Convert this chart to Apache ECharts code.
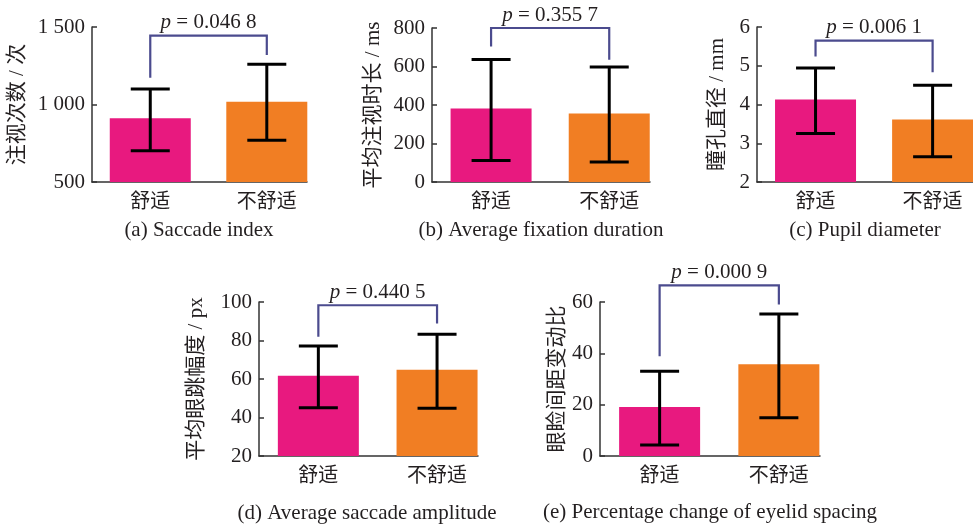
<!DOCTYPE html>
<html>
<head>
<meta charset="utf-8">
<script src="https://cdn.jsdelivr.net/npm/echarts@6/dist/echarts.min.js"></script>
<style>
html,body{margin:0;padding:0;background:#fff;}
#chart{width:973px;height:527px;}
</style>
</head>
<body>
<div id="chart"></div>
<script>
// ---- data ----
const categories = ['舒适', '不舒适'];
const captions = ['(a) Saccade index', '(b) Average fixation duration', '(c) Pupil diameter', '(d) Average saccade amplitude', '(e) Percentage change of eyelid spacing'];
const yNames = ['注视次数 / 次', '平均注视时长 / ms', '瞳孔直径 / mm', '平均眼跳幅度 / px', '眼睑间距变动比'];

const saccadeMean = [911, 1018];
const saccadeLow = [702, 769];
const saccadeHigh = [1100, 1259];

const fixationMean = [382, 356];
const fixationLow = [112, 104];
const fixationHigh = [637, 597];

const pupilMean = [4.13, 3.61];
const pupilLow = [3.25, 2.65];
const pupilHigh = [4.94, 4.50];

const amplitudeMean = [61.7, 64.8];
const amplitudeLow = [45.1, 44.8];
const amplitudeHigh = [77.2, 83.3];

const eyelidMean = [19.1, 35.7];
const eyelidLow = [4.3, 14.9];
const eyelidHigh = [33.0, 55.3];

const pValues = ['0.046 8', '0.355 7', '0.006 1', '0.440 5', '0.000 9'];
const bracketTop = [1444, 800, 5.65, 98.3, 66.5];
const bracketLeftEnd = [1173, 704, 5.24, 81.9, 38.9];
const bracketRightEnd = [1319, 635, 4.83, 88.8, 59.0];

const yMin = [500, 0, 2, 20, 0];
const yMax = [1500, 800, 6, 100, 60];
const yInterval = [500, 200, 1, 20, 20];

// ---- layout ----
const grids = [
  {left: 92, top: 27, width: 215, height: 155},
  {left: 432, top: 28, width: 218, height: 154},
  {left: 757, top: 27, width: 216, height: 155},
  {left: 259, top: 302, width: 219, height: 154},
  {left: 600, top: 302, width: 220, height: 154}
];
const nameGaps = [64, 48, 29, 52, 31];
const captionPos = [[199, 220], [541, 220], [865, 220], [367, 503], [710, 502]];

const means = [saccadeMean, fixationMean, pupilMean, amplitudeMean, eyelidMean];
const lows = [saccadeLow, fixationLow, pupilLow, amplitudeLow, eyelidLow];
const highs = [saccadeHigh, fixationHigh, pupilHigh, amplitudeHigh, eyelidHigh];

const barColors = ['#E8197F', '#F17E23'];
const serif = '"Liberation Serif", "Times New Roman", serif';
const cjk = '"Liberation Serif", "Noto Sans CJK SC", serif';
const textColor = '#231F20';
const axisColor = '#333333';

function fmtNum(v) {
  if (Math.abs(v) >= 1000) {
    const s = String(v);
    return s.slice(0, s.length - 3) + ' ' + s.slice(s.length - 3);
  }
  return String(v);
}

const xAxes = [], yAxes = [], series = [], titles = [];
grids.forEach((g, i) => {
  xAxes.push({
    type: 'value', gridIndex: i, min: -0.5, max: 1.345,
    axisLine: {show: true, onZero: false, lineStyle: {color: axisColor, width: 1.5}},
    axisTick: {show: true, inside: true, length: 5, customValues: [0, 1], lineStyle: {color: axisColor, width: 1.5}},
    axisLabel: {show: true, customValues: [0, 1], formatter: v => categories[Math.round(v)] || '',
      fontFamily: cjk, fontSize: 20, color: textColor, margin: 11},
    splitLine: {show: false}
  });
  yAxes.push({
    type: 'value', gridIndex: i, min: yMin[i], max: yMax[i], interval: yInterval[i],
    name: yNames[i], nameLocation: 'middle', nameGap: nameGaps[i], nameRotate: 90,
    nameTextStyle: {fontFamily: cjk, fontSize: 21, color: textColor},
    axisLine: {show: true, onZero: false, lineStyle: {color: axisColor, width: 1.5}},
    axisTick: {show: true, inside: true, length: 5, lineStyle: {color: axisColor, width: 1.5}},
    axisLabel: {formatter: fmtNum, fontFamily: serif, fontSize: 21, color: textColor, margin: 7},
    splitLine: {show: false}
  });
  series.push({
    type: 'bar', xAxisIndex: i, yAxisIndex: i, barWidth: 81,
    data: means[i].map((m, k) => ({value: [k, m], itemStyle: {color: barColors[k]}})),
    silent: true
  });
  series.push({
    type: 'custom', xAxisIndex: i, yAxisIndex: i, clip: false, silent: true, z: 5,
    data: means[i].map((m, k) => [k, lows[i][k], highs[i][k]]),
    encode: {x: 0, y: [1, 2]},
    renderItem: function (params, api) {
      const x = api.value(0);
      const pLo = api.coord([x, api.value(1)]);
      const pHi = api.coord([x, api.value(2)]);
      const hw = 19.5;
      const st = {stroke: '#000', lineWidth: 3, fill: null};
      return {type: 'group', children: [
        {type: 'line', shape: {x1: pLo[0], y1: pLo[1], x2: pHi[0], y2: pHi[1]}, style: st},
        {type: 'line', shape: {x1: pHi[0] - hw, y1: pHi[1], x2: pHi[0] + hw, y2: pHi[1]}, style: st},
        {type: 'line', shape: {x1: pLo[0] - hw, y1: pLo[1], x2: pLo[0] + hw, y2: pLo[1]}, style: st}
      ]};
    }
  });
  series.push({
    type: 'custom', xAxisIndex: i, yAxisIndex: i, clip: false, silent: true, z: 6,
    data: [[0, 1, bracketLeftEnd[i], bracketRightEnd[i], bracketTop[i]]],
    encode: {x: [0, 1], y: [2, 3, 4]},
    renderItem: function (params, api) {
      const a = api.coord([api.value(0), api.value(2)]);
      const b = api.coord([api.value(1), api.value(3)]);
      const ta = api.coord([api.value(0), api.value(4)]);
      const tb = api.coord([api.value(1), api.value(4)]);
      return {type: 'group', children: [
        {type: 'polyline', shape: {points: [a, ta, tb, b]}, style: {stroke: '#4B4B8E', lineWidth: 2.2, fill: null}},
        {type: 'text', style: {
          text: '{i|p} = ' + pValues[i], x: (ta[0] + tb[0]) / 2, y: ta[1] - 13,
          align: 'center', verticalAlign: 'middle',
          fontFamily: serif, fontSize: 21, fill: textColor,
          rich: {i: {fontStyle: 'italic', fontFamily: serif, fontSize: 21, fill: textColor, color: textColor}}
        }}
      ]};
    }
  });
  titles.push({
    text: captions[i], left: captionPos[i][0], top: captionPos[i][1], textAlign: 'center', padding: 0,
    textStyle: {fontFamily: serif, fontSize: 21, fontWeight: 'normal', color: textColor}
  });
});

const chart = echarts.init(document.getElementById('chart'), null, {renderer: 'canvas'});
chart.setOption({
  animation: false,
  backgroundColor: '#fff',
  title: titles,
  grid: grids,
  xAxis: xAxes,
  yAxis: yAxes,
  series: series
});
</script>
</body>
</html>
